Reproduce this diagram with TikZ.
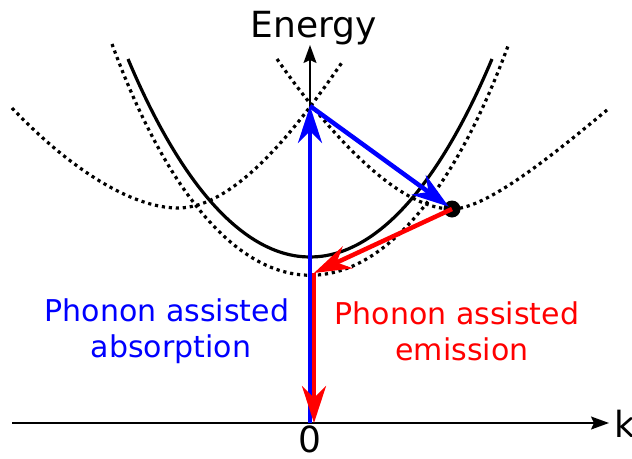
\documentclass[tikz,border=0pt]{standalone}
\usepackage{fontspec}
\setmainfont{DejaVu Sans}
\usetikzlibrary{arrows.meta}
\begin{document}
\begin{tikzpicture}[x=1pt,y=-1pt,
  solidcurve/.style={line width=3.2pt},
  dotcurve/.style={line width=3.2pt, dash pattern=on 3.2pt off 3.8pt},
  axisline/.style={line width=1.6pt, -{Stealth[length=18pt,width=13pt,inset=3pt]}},
  bigarrow/.style={line width=4.5pt, -{Stealth[length=37pt,width=24pt,inset=12pt]}},
  biglabel/.style={font=\fontsize{36}{42}\selectfont},
  desclabel/.style={font=\fontsize{30}{36}\selectfont}]
\useasboundingbox (0,0) rectangle (632,458);
% axes
\coordinate (O) at (310,423);
\coordinate (ytip) at (310,45);
\coordinate (xl) at (12,423);
\coordinate (xtip) at (609,423);
\coordinate (top) at (310,106);
\coordinate (corner) at (314,273);
\coordinate (rbottom) at (314,423);
\draw[axisline] (xl) -- (xtip);
\draw[axisline] (O) -- (ytip);
% bands
\draw[solidcurve] (128,59) .. controls (239,323) and (381,323) .. (492,59);
\draw[dotcurve] (112,44) .. controls (225,352) and (395,352) .. (508,46);
\draw[dotcurve] (12,108) .. controls (67,166) and (130,208) .. (178,208)
                .. controls (240,208) and (307,113) .. (343,61);
\draw[dotcurve] (277,59) .. controls (318,118) and (392,209) .. (452,209)
                .. controls (485,209) and (547,160) .. (607,110);
% electron
\node[circle, fill=black, inner sep=0pt, minimum size=17pt] (dot) at (452,209) {};
% transitions
\draw[bigarrow, blue] (O) -- (top);
\draw[bigarrow, blue, shorten >=4pt] (top) -- (dot.center);
\draw[bigarrow, red] (dot.center) -- (corner);
\draw[bigarrow, red] (corner) -- (rbottom);
% labels
\node[biglabel, anchor=base] (energy) at (314,37) {Energy};
\node[biglabel, anchor=base, inner sep=0pt] (zero) at (310,452) {0};
\node[biglabel, anchor=base west, inner sep=0pt] (klab) at (614,437) {k};
\node[desclabel, text=blue, anchor=base] (abs1) at (167,321) {Phonon assisted};
\node[desclabel, text=blue, anchor=base] (abs2) at (171,357) {absorption};
\node[desclabel, text=red, anchor=base] (em1) at (457,324) {Phonon assisted};
\node[desclabel, text=red, anchor=base] (em2) at (462,360) {emission};
\end{tikzpicture}
\end{document}
